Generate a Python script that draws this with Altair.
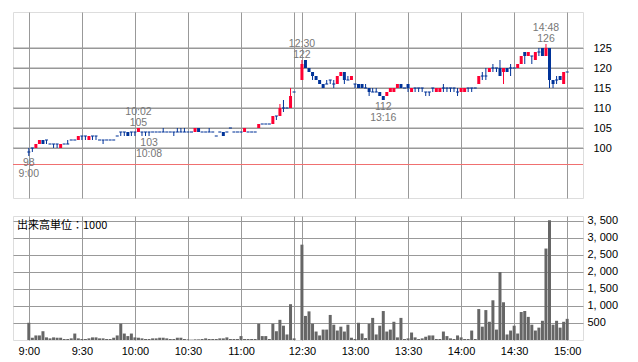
import altair as alt
import pandas as pd

# ---------------- data (2-minute bars) ----------------
am_open  = [99,100,100,101,102,102,101,101,101,100,101,101,102,102,102,103,103,102,103,103,
            102,102,102,102,102,103,104,104,104,104,104,104,104,104,104,104,104,104,104,104,
            104,104,104,104,104,104,104,104,105,104,104,104,104,103,104,104,104,105,104,104,
            104,104,104,104,104,105,106,106,106,106,108,108,110,110,110,114]
am_high  = [100,100,101,102,102,102,101,101,101,101,101,102,102,102,103,103,103,103,103,103,
            102,102,102,102,102,103,104,104,104,104,104,105,104,104,104,104,104,104,105,104,
            104,104,105,105,105,104,104,105,105,104,104,105,104,103,104,104,104,105,104,104,
            104,105,104,104,104,106,106,106,106,108,108,111,112,110,115,114]
am_low   = [98,99,100,101,101,101,101,100,100,100,101,101,102,102,102,102,102,102,102,102,
            102,101,102,102,102,103,103,103,103,103,103,104,103,103,103,104,104,104,104,104,
            104,103,104,104,104,104,104,104,104,104,104,104,104,103,104,103,104,105,104,104,
            104,104,104,104,104,105,106,106,106,106,107,108,109,110,110,114]
am_close = [99,100,101,102,101,102,101,101,101,101,101,101,102,102,103,103,103,103,103,103,
            102,102,102,102,102,103,104,104,103,104,104,105,104,104,104,104,104,104,104,104,
            104,104,104,104,104,104,104,105,104,104,104,104,104,103,104,103,104,105,104,104,
            104,105,104,104,104,106,106,106,106,108,108,110,110,110,113,114]
am_vol   = [507,67,134,134,258,77,48,77,67,67,29,29,48,190,48,29,29,48,77,77,
            48,48,29,29,67,134,480,190,115,190,77,67,48,29,29,48,48,67,67,48,
            29,29,67,67,29,19,10,19,19,29,48,29,29,29,48,48,77,29,29,29,
            115,29,29,29,29,478,115,115,29,478,258,593,421,163,1053,48]

pm_open  = [117,122,120,119,118,117,116,116,117,116,116,118,119,117,117,116,116,116,115,115,
            114,114,114,113,113,114,114,115,116,115,116,114,115,115,115,114,114,115,114,114,
            115,115,115,115,114,114,114,115,115,115,116,118,118,119,120,120,120,119,120,120,
            120,120,121,124,123,123,122,124,125,123,125,117,117,118,116,119]
pm_high  = [122,122,120,119,118,117,116,117,117,117,118,119,119,118,118,116,116,116,116,115,
            115,115,114,113,114,115,115,116,116,115,116,115,115,115,115,114,114,115,115,115,
            116,115,115,115,115,115,115,115,115,115,118,119,120,120,121,120,122,120,120,121,
            120,121,123,124,124,123,124,125,125,126,125,117,118,118,119,119]
pm_low   = [117,120,119,117,117,116,115,116,116,115,116,118,116,117,117,115,115,115,115,113,
            114,114,113,112,113,114,114,115,115,115,114,114,114,114,114,113,113,114,114,114,
            114,114,114,114,113,114,114,114,114,115,116,117,117,119,119,119,118,116,119,118,
            120,120,121,121,123,121,122,123,123,123,115,115,116,117,116,119]
pm_close = [121,120,119,118,117,116,115,116,117,116,118,119,117,117,118,116,115,115,115,114,
            114,114,113,112,114,115,115,116,115,115,115,115,115,115,115,114,114,115,115,115,
            115,115,115,115,114,115,115,115,115,115,118,118,118,120,120,120,118,120,119,120,
            120,121,123,123,124,123,124,124,123,125,117,116,117,117,119,119]
pm_vol   = [2804,708,842,478,249,134,306,306,737,450,278,392,249,450,67,29,507,191,57,478,
            650,163,421,852,249,306,536,77,650,29,48,220,77,29,48,96,134,134,29,29,
            249,115,48,29,134,77,29,29,278,29,910,392,880,536,1168,306,2000,1110,163,278,
            421,191,823,852,680,450,278,364,565,2690,3522,450,565,364,536,622]

limit_price = 96
high_times, high_prices = ["10:02", "12:30", "14:48"], [105, 122, 126]
low_times, low_prices = ["9:00", "10:08", "13:16"], [98, 103, 112]
grid_times = ["9:00", "9:30", "10:00", "10:30", "11:00", "11:30",
              "12:30", "13:00", "13:30", "14:00", "14:30", "15:00"]
hidden_labels = ["11:30"]
price_ticks = [100, 105, 110, 115, 120, 125]
vol_ticks = [500, 1000, 1500, 2000, 2500, 3000, 3500]
vol_title = "出来高単位：1000"

PX_PER_MIN = 1.8
LUNCH_GAP = 8 / PX_PER_MIN       # compressed lunch break, in minutes
EDGE = 11 / PX_PER_MIN           # margin inside the frame, in minutes


def to_pos(t):
    h, m = map(int, t.split(":"))
    mins = h * 60 + m
    if mins <= 690:
        return mins - 540
    return 150 + LUNCH_GAP + (mins - 750)


def session_times(start_min, n):
    return [f"{(start_min + 2 * k) // 60}:{(start_min + 2 * k) % 60:02d}" for k in range(n)]


times = session_times(540, len(am_open)) + session_times(750, len(pm_open))
df = pd.DataFrame({
    "time": times,
    "open": am_open + pm_open,
    "high": am_high + pm_high,
    "low": am_low + pm_low,
    "close": am_close + pm_close,
    "vol": am_vol + pm_vol,
})
df["pos"] = [to_pos(t) for t in df["time"]]
df["dir"] = ["up" if c > o else "down" for o, c in zip(df["open"], df["close"])]
df["b0"] = [min(o, c) - (0.13 if o == c else 0) for o, c in zip(df["open"], df["close"])]
df["b1"] = [max(o, c) + (0.13 if o == c else 0) for o, c in zip(df["open"], df["close"])]

hi_df = pd.DataFrame({"pos": [to_pos(t) for t in high_times], "time": high_times,
                      "price": high_prices, "ptxt": [str(p) for p in high_prices]})
lo_df = pd.DataFrame({"pos": [to_pos(t) for t in low_times], "time": low_times,
                      "price": low_prices, "ptxt": [str(p) for p in low_prices]})

grid_vals = [round(to_pos(t), 6) for t in grid_times]
expr = "''"
for t, v in reversed(list(zip(grid_times, grid_vals))):
    lab = "" if t in hidden_labels else t
    expr = f"abs(datum.value - {v}) < 0.01 ? '{lab}' : ({expr})"

W = 570
x_end = to_pos("15:00") + EDGE
x_scale = alt.Scale(domain=[-EDGE, x_end], nice=False, zero=False)
FONT = "Liberation Sans"
GRID = "#999999"

x_axis_top = alt.Axis(values=grid_vals, labels=False, ticks=False, domain=False,
                      grid=True, title=None, gridColor=GRID)
p_scale = alt.Scale(domain=[87.5, 134.0], nice=False, zero=False)
p_axis = alt.Axis(orient="right", values=price_ticks, grid=True, ticks=False,
                  domain=False, labelPadding=10, title=None, labelFontSize=11,
                  labelFont=FONT, labelColor="#000000", labelOverlap=False,
                  gridColor="#969696", gridWidth=1, gridOpacity=1)


def px(field="pos:Q"):
    return alt.X(field, scale=x_scale, axis=x_axis_top)


def py(field):
    return alt.Y(field, scale=p_scale, axis=p_axis)


col = alt.Color("dir:N", scale=alt.Scale(domain=["up", "down"], range=["#ff0033", "#003399"]),
                legend=None)

base = alt.Chart(df)
grid_df = pd.DataFrame({"level": price_ticks})
hgrid = alt.Chart(grid_df).transform_calculate(
    g0="datum.level - 0.125", g1="datum.level + 0.125"
).mark_rect(color="#999999", opacity=1).encode(
    y=py("g0:Q"), y2="g1:Q", x=alt.value(0), x2=alt.value(W))
wick = base.mark_rule(strokeWidth=1).encode(x=px(), y=py("low:Q"), y2="high:Q", color=col)
body = base.mark_bar(size=3).encode(x=px(), y=py("b0:Q"), y2="b1:Q", color=col)
limit = alt.Chart(pd.DataFrame({"p": [limit_price]})).mark_rule(
    color="#f07070", strokeWidth=1, yOffset=0.5).encode(y=py("p:Q"))

tstyle = dict(font=FONT, fontSize=10.5, color="#777777", align="center", baseline="alphabetic")
hi_p = alt.Chart(hi_df).mark_text(dy=-2, **tstyle).encode(x=px(), y=py("price:Q"), text="ptxt:N")
hi_t = alt.Chart(hi_df).mark_text(dy=-13, **tstyle).encode(x=px(), y=py("price:Q"), text="time:N")
lo_p = alt.Chart(lo_df).mark_text(dy=10, **tstyle).encode(x=px(), y=py("price:Q"), text="ptxt:N")
lo_t = alt.Chart(lo_df).mark_text(dy=21, **tstyle).encode(x=px(), y=py("price:Q"), text="time:N")

price = alt.layer(hgrid, limit, wick, body, hi_p, hi_t, lo_p, lo_t).properties(width=W, height=186)

x_bot = alt.X("pos:Q", scale=x_scale,
              axis=alt.Axis(values=grid_vals, labelExpr=expr, ticks=False, domain=False,
                            grid=True, title=None, labelPadding=5, labelFontSize=11,
                            labelFont=FONT, labelColor="#000000", labelFlush=False,
                            labelOverlap=False, gridColor=GRID))
vbars = base.mark_bar(size=3, color="#666666").encode(
    x=x_bot,
    y=alt.Y("vol:Q", scale=alt.Scale(domain=[0, 3647], nice=False),
            axis=alt.Axis(orient="right", values=vol_ticks, grid=True, ticks=False,
                          domain=False, labelPadding=4, title=None, format=",d",
                          labelExpr="replace(datum.label, ',', ', ')", labelFontSize=11,
                          labelFont=FONT, labelColor="#000000", labelOverlap=False,
                          gridColor=GRID)))
vtitle = alt.Chart(pd.DataFrame({"t": [vol_title]})).mark_text(
    align="left", baseline="middle", font="Noto Sans CJK JP", fontSize=11, color="#000000"
).encode(text="t:N", x=alt.value(4), y=alt.value(10))
volume = alt.layer(vbars, vtitle).properties(width=W, height=124)

chart = alt.vconcat(price, volume, spacing=15).properties(
    padding={"left": 4, "top": 3, "right": 2, "bottom": 0}
).configure_view(stroke=GRID, strokeWidth=1).configure_axis(
    gridColor=GRID, gridWidth=1, gridOpacity=1
).configure(background="white")

chart.save("out.html", embed_options={"renderer": "svg", "actions": False})
